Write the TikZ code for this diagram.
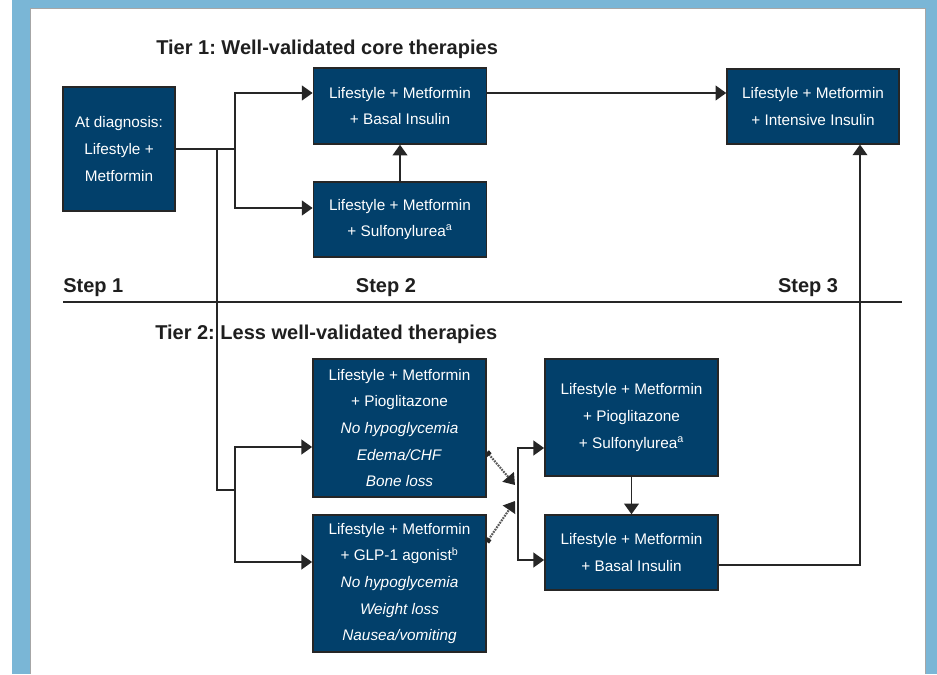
\documentclass[tikz,border=0pt]{standalone}
\usepackage{fontspec}
\setmainfont{Liberation Sans}
\usepackage{tikz}
\usetikzlibrary{arrows.meta,calc}

\definecolor{frameblue}{HTML}{7AB6D6}
\definecolor{boxblue}{HTML}{02406B}
\definecolor{linegray}{HTML}{262626}
\frenchspacing

\begin{document}
\begin{tikzpicture}[x=0.75pt, y=-0.75pt,
	tbox/.style={rectangle, draw=linegray, line width=1.1pt, fill=boxblue, text=white, align=center, inner sep=0pt, minimum width=130pt, font=\fontsize{11.5}{20}\selectfont},
	link/.style={draw=linegray, line width=1.4pt},
	arr/.style={link, -{Triangle[length=8pt,width=11pt]}},
	weak/.style={draw=black!65, line width=1.6pt, dash pattern=on 1.3pt off 0.8pt, {Square[length=3pt,width=4pt,color=linegray]}-{Triangle[length=8pt,width=11pt,color=linegray]}},
	tier/.style={font=\fontsize{15}{17}\selectfont\bfseries, text=black!88, inner sep=0pt}]

\useasboundingbox (0,0) rectangle (937,674);
\fill[white] (0,0) rectangle (937,674);
\fill[frameblue] (12,0) rectangle (937,674);
\filldraw[fill=white, draw=gray!70] (30,674) -- (30,8) -- (925,8) -- (925,674);

\node (tier1) at (156,55) [tier, anchor=base west] {Tier 1: Well-validated core therapies};

\node (diag) at (119,149) [tbox, minimum width=84pt, minimum height=93pt] {At diagnosis:\\ Lifestyle +\\ Metformin};
	\coordinate (fork) at (235,149);
	\coordinate (drop) at (217,149);
	\node (b1) at (400,106) [tbox, minimum height=57pt] {Lifestyle + Metformin\\ + Basal Insulin};
	\node (s1) at (400,219.5) [tbox, minimum height=56pt] {Lifestyle + Metformin\\ + Sulfonylurea\textsuperscript{a}};
	\node (int) at (813,106.5) [tbox, minimum width=129pt, minimum height=56pt] {Lifestyle + Metformin\\ + Intensive Insulin};

\draw[link] (diag.east) -- (fork);
\draw[arr] (fork) |- ($(b1.west)+(0,-13)$);
\draw[arr] (fork) |- ($(s1.west)+(0,-11.5)$);
\draw[arr] (s1) -- (b1);
\draw[arr] ($(b1.east)+(0,-13)$) -- ($(int.west)+(0,-13.5)$);

\node (step1) at (63,292) [tier, anchor=base west] {Step 1};
\node (step2) at (386,292) [tier, anchor=base] {Step 2};
\node (step3) at (808,292) [tier, anchor=base] {Step 3};
\coordinate (divl) at (63,302);
\coordinate (divr) at (902,302);
\draw[link] (divl) -- (divr);

\node (tier2) at (155,339) [tier, anchor=base west] {Tier 2: Less well-validated therapies};

\node (pio) at (399.5,428) [tbox, minimum height=103.5pt] {Lifestyle + Metformin\\ + Pioglitazone\\ \textit{No hypoglycemia}\\ \textit{Edema/CHF}\\ \textit{Bone loss}};
\node (glp) at (399.5,583.5) [tbox, minimum height=102.75pt] {Lifestyle + Metformin\\ + GLP-1 agonist\textsuperscript{b}\\ \textit{No hypoglycemia}\\ \textit{Weight loss}\\ \textit{Nausea/vomiting}};
	\coordinate (fork2) at (235,490);
\node (pio3) at (631.5,417.5) [tbox, minimum height=87.75pt] {Lifestyle + Metformin\\ + Pioglitazone\\ + Sulfonylurea\textsuperscript{a}};
\node (bas2) at (631.5,552.5) [tbox, minimum height=56.25pt] {Lifestyle + Metformin\\ + Basal Insulin};
	\coordinate (bus) at (518,504);
	\coordinate (tipa) at (515,485);
	\coordinate (tipb) at (515,501);

\draw[link] (drop) |- (fork2);
\draw[arr] (fork2) |- ($(pio.west)+(0,19)$);
\draw[arr] (fork2) |- ($(glp.west)+(0,-21.5)$);
\draw[weak] ($(pio.east)+(0,24)$) -- (tipa);
\draw[weak] ($(glp.east)+(0,-41.5)$) -- (tipb);
\draw[arr] (bus) |- ($(pio3.west)+(0,30.5)$);
\draw[arr] (bus) |- ($(bas2.west)+(0,7.5)$);
\draw[arr] (pio3) -- (bas2);
\draw[arr] ($(bas2.east)+(0,12.5)$) -| ($(int.south)+(47,0)$);
\end{tikzpicture}
\end{document}
